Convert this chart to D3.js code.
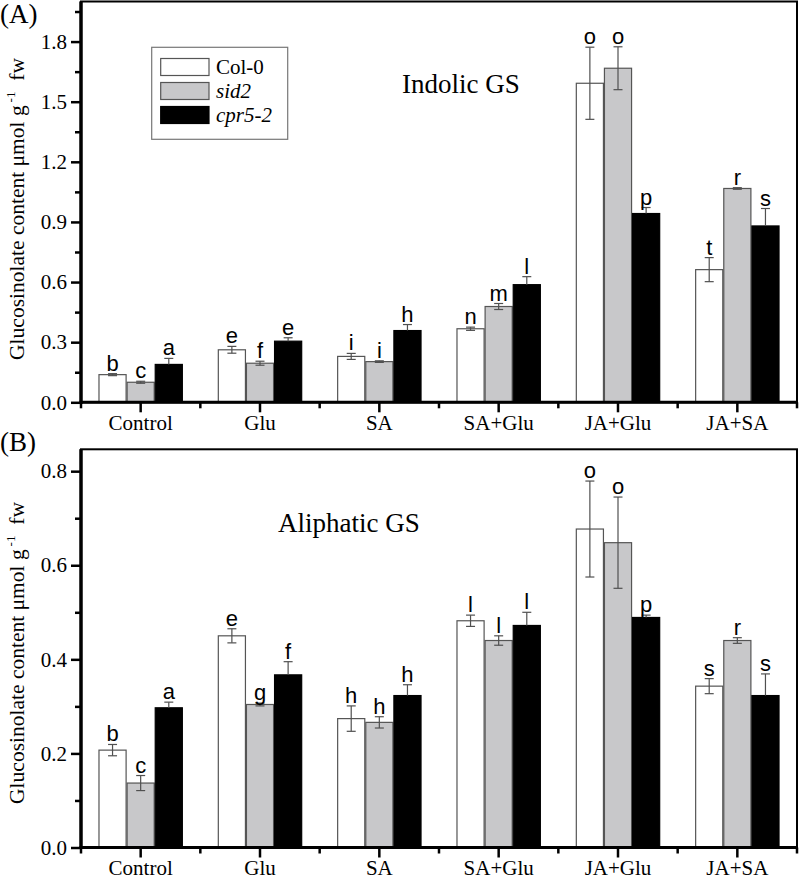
<!DOCTYPE html>
<html><head><meta charset="utf-8">
<script src="https://cdn.jsdelivr.net/npm/d3@7"></script>
<style>body{margin:0;background:#fff}svg{display:block}</style>
</head><body>
<svg id="chart" width="799" height="880"></svg>
<script>
const categories = ["Control","Glu","SA","SA+Glu","JA+Glu","JA+SA"];
const seriesNames = ["Col-0","sid2","cpr5-2"];

// Panel A: Indolic GS
const indolicCol0 = [0.138, 0.262, 0.229, 0.367, 1.592, 0.662];
const indolicSid2 = [0.100, 0.195, 0.203, 0.478, 1.667, 1.067];
const indolicCpr5 = [0.189, 0.305, 0.358, 0.587, 0.942, 0.880];
const indolicCol0Err = [0.005, 0.017, 0.015, 0.008, 0.180, 0.060];
const indolicSid2Err = [0.005, 0.010, 0.004, 0.015, 0.107, 0.004];
const indolicCpr5Err = [0.030, 0.017, 0.030, 0.040, 0.030, 0.087];
const indolicCol0Let = ["b","e","i","n","o","t"];
const indolicSid2Let = ["c","f","i","m","o","r"];
const indolicCpr5Let = ["a","e","h","l","p","s"];
const indolicTicks = [0.0, 0.3, 0.6, 0.9, 1.2, 1.5, 1.8];

// Panel B: Aliphatic GS
const aliphCol0 = [0.207, 0.450, 0.274, 0.482, 0.677, 0.343];
const aliphSid2 = [0.137, 0.304, 0.266, 0.440, 0.648, 0.440];
const aliphCpr5 = [0.297, 0.367, 0.323, 0.472, 0.489, 0.323];
const aliphCol0Err = [0.012, 0.015, 0.027, 0.012, 0.102, 0.016];
const aliphSid2Err = [0.016, 0.003, 0.012, 0.010, 0.097, 0.006];
const aliphCpr5Err = [0.012, 0.028, 0.023, 0.028, 0.005, 0.046];
const aliphCol0Let = ["b","e","h","l","o","s"];
const aliphSid2Let = ["c","g","h","l","o","r"];
const aliphCpr5Let = ["a","f","h","l","p","s"];
const aliphTicks = [0.0, 0.2, 0.4, 0.6, 0.8];

const fills = {"Col-0":"#ffffff","sid2":"#c8c8ca","cpr5-2":"#000000"};
const strokes = {"Col-0":"#555555","sid2":"#555555","cpr5-2":"#000000"};
const serif = "'Liberation Serif','Times New Roman',serif";
const sans = "'Liberation Sans',Arial,sans-serif";

const svg = d3.select("#chart");

function panel(cfg){
  const g = svg.append("g");
  const left = 81, right = 797;
  const x0 = d3.scaleBand().domain(categories).range([left, right]).padding(0);
  const bw = x0.bandwidth();
  const gw = bw * 0.707;
  const x1 = d3.scaleBand().domain(seriesNames).range([(bw-gw)/2, (bw+gw)/2]).padding(0);
  const y = d3.scaleLinear().domain([0, cfg.ymax]).range([cfg.bottom, cfg.top]);

  // frame
  g.append("rect").attr("x", left).attr("y", cfg.top).attr("width", right-left).attr("height", cfg.bottom-cfg.top)
    .attr("fill","none").attr("stroke","#000").attr("stroke-width",2);

  const data = [];
  categories.forEach((c,i)=>{
    seriesNames.forEach((s,j)=>{
      data.push({cat:c, ser:s, v:cfg.vals[j][i], e:cfg.errs[j][i], l:cfg.lets[j][i]});
    });
  });

  // bars
  g.selectAll("rect.bar").data(data).join("rect").attr("class","bar")
    .attr("x", d=>x0(d.cat)+x1(d.ser)+0.5)
    .attr("width", x1.bandwidth()-1)
    .attr("y", d=>y(d.v))
    .attr("height", d=>y(0)-y(d.v))
    .attr("fill", d=>fills[d.ser]).attr("stroke", d=>strokes[d.ser]).attr("stroke-width",1.2);

  // error bars
  const cap = 4.5;
  const eg = g.selectAll("g.err").data(data).join("g").attr("class","err")
    .attr("stroke","#505050").attr("stroke-width",1.2);
  eg.append("line")
    .attr("x1", d=>x0(d.cat)+x1(d.ser)+x1.bandwidth()/2)
    .attr("x2", d=>x0(d.cat)+x1(d.ser)+x1.bandwidth()/2)
    .attr("y1", d=> d.ser==="cpr5-2" ? y(d.v) : y(d.v-d.e))
    .attr("y2", d=>y(d.v+d.e));
  eg.append("line")
    .attr("x1", d=>x0(d.cat)+x1(d.ser)+x1.bandwidth()/2-cap)
    .attr("x2", d=>x0(d.cat)+x1(d.ser)+x1.bandwidth()/2+cap)
    .attr("y1", d=>y(d.v+d.e)).attr("y2", d=>y(d.v+d.e));
  eg.filter(d=>d.ser!=="cpr5-2").append("line")
    .attr("x1", d=>x0(d.cat)+x1(d.ser)+x1.bandwidth()/2-cap)
    .attr("x2", d=>x0(d.cat)+x1(d.ser)+x1.bandwidth()/2+cap)
    .attr("y1", d=>y(d.v-d.e)).attr("y2", d=>y(d.v-d.e));

  // significance letters
  g.selectAll("text.sig").data(data).join("text").attr("class","sig")
    .attr("x", d=>x0(d.cat)+x1(d.ser)+x1.bandwidth()/2)
    .attr("y", d=>y(d.v+d.e)-3)
    .attr("text-anchor","middle").attr("font-family",sans).attr("font-size",22)
    .text(d=>d.l);

  // y axis major
  const yAxis = d3.axisLeft(y).tickValues(cfg.ticks).tickSize(10).tickPadding(4).tickFormat(d3.format(".1f"));
  const ya = g.append("g").attr("transform",`translate(${left},0)`).call(yAxis);
  const minor = [];
  for (let k=0; k<cfg.ticks.length; k++){ const m = cfg.ticks[k] + cfg.step/2; if (m < cfg.ymax) minor.push(m); }
  const ym = g.append("g").attr("transform",`translate(${left},0)`).call(d3.axisLeft(y).tickValues(minor).tickSize(6).tickFormat(""));
  [ya, ym].forEach(a=>{
    a.select(".domain").attr("stroke-width",3).attr("d",`M0,${cfg.bottom+1.5}V${cfg.top}`);
    a.selectAll(".tick line").attr("stroke-width",2.5);
  });
  ya.selectAll(".tick text").attr("font-family",serif).attr("font-size",21).attr("fill","#000");

  // x axis
  const xa = g.append("g").attr("transform",`translate(0,${cfg.bottom})`)
    .call(d3.axisBottom(x0).tickSize(10).tickPadding(6));
  xa.select(".domain").attr("stroke-width",3).attr("d",`M${left-1.5},0H${right+1}`);
  xa.selectAll(".tick line").attr("stroke-width",2.5);
  xa.selectAll(".tick text").attr("font-family",serif).attr("font-size",21).attr("fill","#000").attr("dy","0.57em");
  const bounds = categories.map(c=>x0(c)).concat([right]);
  g.append("g").selectAll("line").data(bounds).join("line")
    .attr("x1",d=>d).attr("x2",d=>d).attr("y1",cfg.bottom).attr("y2",cfg.bottom+6)
    .attr("stroke","#000").attr("stroke-width",2.5);

  // y label
  const yl = g.append("text")
    .attr("transform",`translate(24,${cfg.labelY}) rotate(-90)`)
    .attr("text-anchor","middle").attr("font-family",serif).attr("font-size",21.5);
  yl.append("tspan").text("Glucosinolate content \u03bcmol g");
  yl.append("tspan").attr("dy",-9).attr("dx",3).attr("font-size",13).text("-1");
  yl.append("tspan").attr("dy",9).text("\u00a0\u00a0fw");

  // panel tag & title
  g.append("text").attr("x",0).attr("y",cfg.tagY).attr("font-family",serif).attr("font-size",27).text(cfg.tag);
  g.append("text").attr("x",cfg.titleX).attr("y",cfg.titleY).attr("font-family",serif).attr("font-size",27).text(cfg.title);
  return {g, x0, y};
}

panel({
  top:1.5, bottom:402.3, ymax:2.0, step:0.3, ticks:indolicTicks,
  vals:[indolicCol0, indolicSid2, indolicCpr5],
  errs:[indolicCol0Err, indolicSid2Err, indolicCpr5Err],
  lets:[indolicCol0Let, indolicSid2Let, indolicCpr5Let],
  labelY:209, tag:"(A)", tagY:23, title:"Indolic GS", titleX:402, titleY:93
});

panel({
  top:449.3, bottom:847.5, ymax:0.8465, step:0.2, ticks:aliphTicks,
  vals:[aliphCol0, aliphSid2, aliphCpr5],
  errs:[aliphCol0Err, aliphSid2Err, aliphCpr5Err],
  lets:[aliphCol0Let, aliphSid2Let, aliphCpr5Let],
  labelY:653, tag:"(B)", tagY:451, title:"Aliphatic GS", titleX:278, titleY:532
});

// legend (panel A)
const lg = svg.append("g");
lg.append("rect").attr("x",151.7).attr("y",47.3).attr("width",136).attr("height",92)
  .attr("fill","#fff").attr("stroke","#777").attr("stroke-width",1.2);
const ls = d3.scaleBand().domain(seriesNames).range([58, 130]).padding(0);
lg.selectAll("rect.sw").data(seriesNames).join("rect").attr("class","sw")
  .attr("x",160.7).attr("y",d=>ls(d)+0.5).attr("width",48.3).attr("height",17)
  .attr("fill",d=>fills[d]).attr("stroke",d=>strokes[d]).attr("stroke-width",1.2);
lg.selectAll("text").data(seriesNames).join("text")
  .attr("x",216).attr("y",d=>ls(d)+16)
  .attr("font-family",serif).attr("font-size",21)
  .attr("font-style",d=>d==="Col-0"?"normal":"italic")
  .text(d=>d);
</script>
</body></html>
